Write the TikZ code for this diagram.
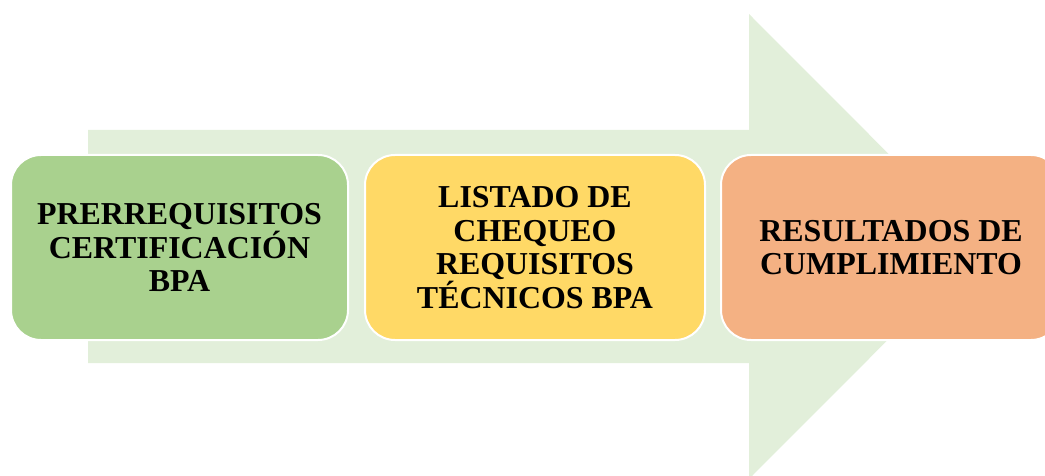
\documentclass[tikz,border=0pt]{standalone}
\usepackage{fontspec}
\setmainfont{Liberation Serif}
\definecolor{arrowgreen}{HTML}{E2EFDA}
\definecolor{boxgreen}{HTML}{A9D18E}
\definecolor{boxyellow}{HTML}{FFD966}
\definecolor{boxorange}{HTML}{F4B183}
\tikzset{
  stagebox/.style={draw=white, line width=2pt, rounded corners=30pt,
    minimum width=337pt, minimum height=185pt, inner sep=0pt, align=center,
    font=\fontsize{31.9}{33.5}\selectfont\bfseries, text=black},
}
\begin{document}
\begin{tikzpicture}[x=1pt,y=1pt]
\clip (0,0) rectangle (1045,475);
\fill[arrowgreen] (88,345) -- (749,345) -- (749,461) -- (981,228.5) -- (749,-4) -- (749,112) -- (88,112) -- cycle;
\node[stagebox, fill=boxgreen] (b1) at (179.5,227.5) {PRERREQUISITOS\\CERTIFICACIÓN\\BPA};
\node[stagebox, fill=boxyellow, minimum width=340pt] (b2) at (535,227.5) {LISTADO DE\\CHEQUEO\\REQUISITOS\\TÉCNICOS BPA};
\node[stagebox, fill=boxorange, minimum width=340pt] (b3) at (891,227.5) {RESULTADOS DE\\CUMPLIMIENTO};
\end{tikzpicture}
\end{document}
